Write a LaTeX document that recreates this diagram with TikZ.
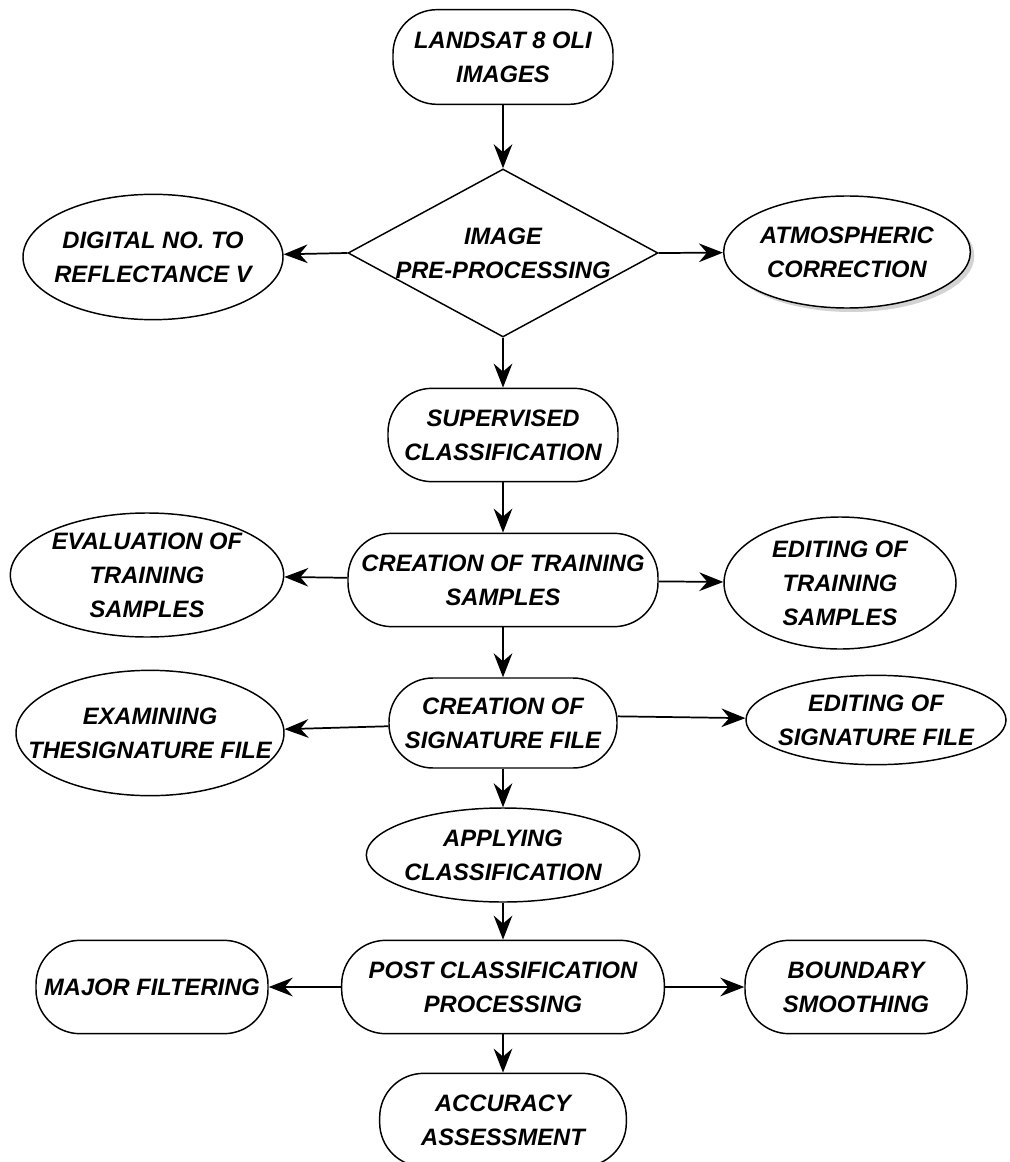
\documentclass[tikz,border=0pt]{standalone}
\usepackage{fontspec}
\setmainfont{Liberation Sans}
\usetikzlibrary{arrows.meta, shapes.geometric, shadows}

\tikzset{
  txt/.style={align=center, font=\fontsize{17.8}{25.5}\selectfont\bfseries\itshape},
  box/.style={draw, rectangle, rounded corners=33pt, line width=1.1pt, inner sep=2pt, minimum height=70pt, txt},
  oval/.style={draw, ellipse, line width=1.1pt, inner sep=0pt},
  link/.style={->, line width=1.3pt},
}

\begin{document}
\begin{tikzpicture}[x=0.75pt, y=-0.75pt, >={Stealth[length=18pt,width=14pt,inset=6pt]}]
  \useasboundingbox (0,0) rectangle (1009,1162);

  % main column
  \node[box, minimum width=165pt, minimum height=71pt] (landsat) at (503,57) {LANDSAT 8 OLI\\IMAGES};
  \node[draw, diamond, line width=1.1pt, inner sep=0pt, minimum width=232.5pt, minimum height=126pt] (prep) at (503,253) {};
  \node[txt] (preptxt) at (prep) {IMAGE\\PRE-PROCESSING};
  \node[box, minimum width=172.5pt] (sup) at (503,435) {SUPERVISED\\CLASSIFICATION};
  \node[box, minimum width=232.5pt] (ctrain) at (503,580) {CREATION OF TRAINING\\SAMPLES};
  \node[box, minimum width=171pt, minimum height=67.5pt] (sig) at (503,723) {CREATION OF\\SIGNATURE FILE};
  \node[oval, minimum width=205pt, minimum height=70.5pt] (apply) at (503,855) {};
  \node[txt] (applytxt) at (apply) {APPLYING\\CLASSIFICATION};
  \node[box, minimum width=242pt] (post) at (503,987) {POST CLASSIFICATION\\PROCESSING};
  \node[box, minimum width=185pt] (acc) at (503,1120) {ACCURACY\\ASSESSMENT};

  % side nodes
  \node[oval, minimum width=195pt, minimum height=94pt] (dig) at (153,257) {};
  \node[txt] (digtxt) at (dig) {DIGITAL NO. TO\\REFLECTANCE V};
  \node[oval, fill=white, minimum width=185pt, minimum height=84pt,
        drop shadow={shadow xshift=3pt, shadow yshift=-3pt, opacity=0.35}] (atm) at (847,252) {};
  \node[txt] (atmtxt) at (atm) {ATMOSPHERIC\\CORRECTION};
  \node[oval, minimum width=205pt, minimum height=93pt] (eval) at (147,575) {};
  \node[txt] (evaltxt) at (eval) {EVALUATION OF\\TRAINING\\SAMPLES};
  \node[oval, minimum width=174pt, minimum height=99pt] (edtrain) at (840,583) {};
  \node[txt] (edtraintxt) at (edtrain) {EDITING OF\\TRAINING\\SAMPLES};
  \node[oval, minimum width=201pt, minimum height=94pt] (exam) at (150,733) {};
  \node[txt] (examtxt) at (exam) {EXAMINING\\THESIGNATURE FILE};
  \node[oval, minimum width=195pt, minimum height=67pt] (edsig) at (876,720) {};
  \node[txt] (edsigtxt) at (edsig) {EDITING OF\\SIGNATURE FILE};
  \node[box, minimum width=174pt] (major) at (152,987) {MAJOR FILTERING};
  \node[box, minimum width=166.5pt] (bound) at (856,987) {BOUNDARY\\SMOOTHING};

  % arrows
  \draw[link] (landsat) -- (prep);
  \draw[link] (prep.west) -- (dig);
  \draw[link] (prep.east) -- (atm);
  \draw[link] (prep) -- (sup);
  \draw[link] (sup) -- (ctrain);
  \draw[link] (ctrain) -- (eval);
  \draw[link] (ctrain) -- (edtrain);
  \draw[link] (ctrain) -- (sig);
  \draw[link] (sig) -- (exam);
  \draw[link] ([yshift=5pt]sig.east) -- (edsig);
  \draw[link] (sig) -- (apply);
  \draw[link] (apply) -- (post);
  \draw[link] (post) -- (major);
  \draw[link] (post) -- (bound);
  \draw[link] (post) -- (acc);
\end{tikzpicture}
\end{document}
